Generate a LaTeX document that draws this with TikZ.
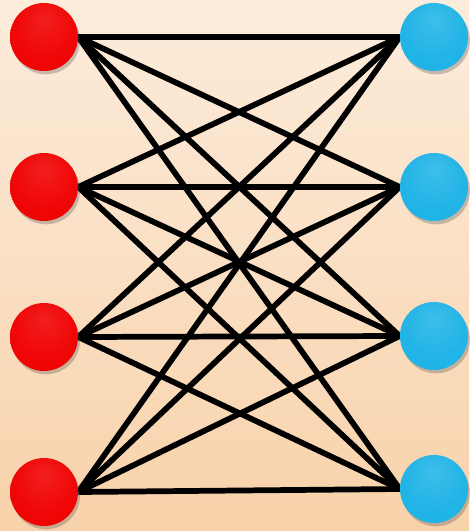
\documentclass[tikz,border=0pt]{standalone}
\usetikzlibrary{shadows}
\pgfdeclarelayer{bg}
\pgfdeclarelayer{edges}
\pgfsetlayers{bg,edges,main}
\definecolor{bgtop}{RGB}{252,236,220}
\definecolor{bgbot}{RGB}{248,210,170}
\definecolor{ballred}{RGB}{240,0,0}
\definecolor{ballblue}{RGB}{28,178,230}
\pgfdeclareradialshading{redball}{\pgfpoint{0bp}{14bp}}{color(0bp)=(ballred!88!white); color(22bp)=(ballred!97!white); color(36bp)=(ballred); color(50bp)=(ballred!94!black)}
\pgfdeclareradialshading{blueball}{\pgfpoint{0bp}{14bp}}{color(0bp)=(ballblue!85!white); color(22bp)=(ballblue!97!white); color(36bp)=(ballblue); color(50bp)=(ballblue!94!black)}
\tikzset{
  ball/.style={circle, minimum size=51pt, inner sep=0pt,
    drop shadow={shadow xshift=1.5pt, shadow yshift=-2.5pt, opacity=0.3, fill=black!70}},
  redb/.style={ball, shading=redball},
  blueb/.style={ball, shading=blueball},
  edge/.style={line width=4.3pt, black}
}
\begin{document}
\begin{tikzpicture}[x=0.75pt,y=-0.75pt]
\begin{pgfonlayer}{bg}
\shade[top color=bgtop, bottom color=bgbot] (0,0) rectangle (469,531);
\end{pgfonlayer}
\useasboundingbox (0,0) rectangle (469,531);
\node[redb] (l1) at (44,37) {};
\node[redb] (l2) at (44,187) {};
\node[redb] (l3) at (44,337) {};
\node[redb] (l4) at (44,492) {};
\node[blueb] (r1) at (434,37) {};
\node[blueb] (r2) at (434,187) {};
\node[blueb] (r3) at (434,336) {};
\node[blueb] (r4) at (434,489) {};
\begin{pgfonlayer}{edges}
\foreach \i in {1,...,4}{
  \foreach \j in {1,...,4}{
    \draw[edge] (l\i.east) -- (r\j.west);
  }
}
\end{pgfonlayer}
\end{tikzpicture}
\end{document}
